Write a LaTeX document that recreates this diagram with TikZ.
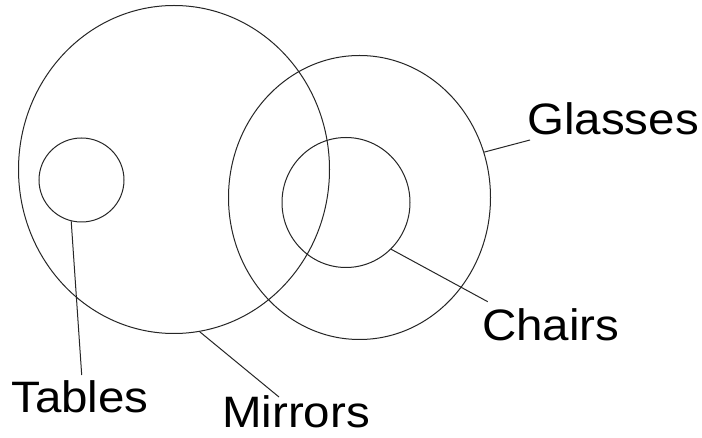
\documentclass[tikz,border=0pt]{standalone}
\usepackage{fontspec}
\setmainfont{Liberation Sans}
\usetikzlibrary{shapes.geometric}
\begin{document}
\begin{tikzpicture}[x=1pt,y=-1pt,
  ring/.style={draw=black!85, line width=1pt, ellipse, inner sep=0pt},
  lead/.style={draw=black!85, line width=1pt},
  lbl/.style={inner sep=0pt, anchor=base west, font=\fontsize{44}{44}\selectfont}]
\useasboundingbox[fill=white] (0,0) rectangle (702,438);
% sets
\node[ring, minimum width=311pt, minimum height=328pt] (mirrors) at (174,169.5) {};
\node[ring, minimum width=262pt, minimum height=284pt] (glasses) at (359.5,197.5) {};
\node[ring, minimum width=128pt, minimum height=130pt] (chairs) at (346,202.5) {};
\node[ring, minimum width=85pt, minimum height=84pt] (tables) at (81.5,180) {};
% labels
\node[lbl] (glassesL) at (527,135) {\scalebox{1.08}[1]{Glasses}};
\node[lbl] (chairsL) at (482,341) {\scalebox{1.08}[1]{Chairs}};
\node[lbl] (tablesL) at (11,413) {\scalebox{1.08}[1]{Tables}};
\node[lbl] (mirrorsL) at (222,428) {\scalebox{1.08}[1]{Mirrors}};
% connector ends
\coordinate (gEnd) at (530,140);
\coordinate (cEnd) at (487.7,301.7);
\coordinate (tEnd) at (81.7,375);
\coordinate (mEnd) at (279,397);
% connectors
\draw[lead] (glasses.20.4) -- (gEnd);
\draw[lead] (chairs.-46.5) -- (cEnd);
\draw[lead] (tables.256) -- (tEnd);
\draw[lead] (mirrors.-81) -- (mEnd);
\end{tikzpicture}
\end{document}
